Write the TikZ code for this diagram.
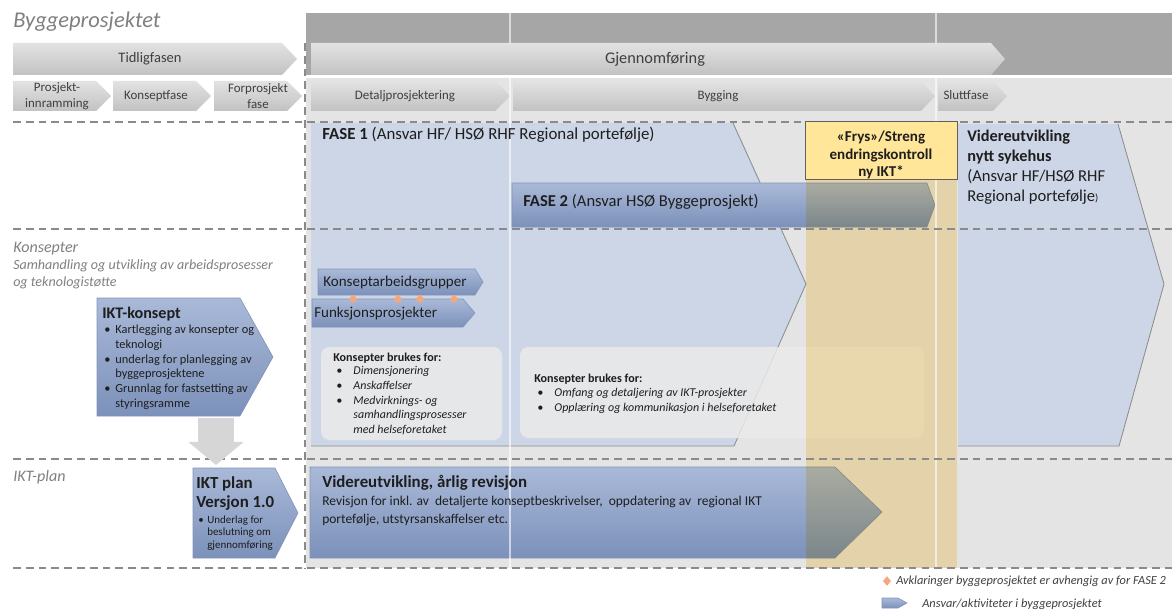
\documentclass[tikz,border=0pt]{standalone}
\usepackage{fontspec}
\setmainfont{Carlito}
\usetikzlibrary{positioning,shapes.geometric,arrows.meta}

\definecolor{bandgray}{HTML}{A6A6A6}
\definecolor{areagray}{HTML}{E4E4E4}
\definecolor{phasetop}{HTML}{E2E2E2}
\definecolor{phasebot}{HTML}{C2C2C2}
\definecolor{lightblue}{HTML}{CDD6E7}
\definecolor{bluetop}{HTML}{A9B9D8}
\definecolor{bluebot}{HTML}{7C91BA}
\definecolor{blueedge}{HTML}{8192B6}
\definecolor{edgegray}{HTML}{8C8C8C}
\definecolor{sepgray}{HTML}{8A8A8A}
\definecolor{frysyellow}{HTML}{FFE699}
\definecolor{frysedge}{HTML}{5F5F5F}
\definecolor{bandyellow}{HTML}{FFEDBF}
\definecolor{boxgray}{HTML}{EAEAEA}
\definecolor{markorange}{HTML}{F4A77D}
\definecolor{labelgray}{HTML}{7F7F7F}
\definecolor{phasetext}{HTML}{3F3F3F}
\definecolor{darktext}{HTML}{1E1E1E}
\definecolor{arrowgray}{HTML}{D6D6D6}

\newcommand{\fsz}[2]{\fontsize{#1}{#2}\selectfont}

\tikzset{
  phase/.style={top color=phasetop, bottom color=phasebot, draw=none},
  lightedge/.style={draw=edgegray, line width=0.6pt},
  bluearrow/.style={top color=bluetop, bottom color=bluebot, draw=blueedge, line width=0.4pt},
  skille/.style={draw=sepgray, line width=1.1pt, dash pattern=on 5.5pt off 3.6pt},
  konseptbox/.style={fill=boxgray, fill opacity=0.85, rounded corners=6pt},
  txt/.style={inner sep=0pt, text=darktext},
  phasetxt/.style={inner sep=0pt, text=phasetext, font=\fsz{9.2}{11.2}, align=center},
  greylabel/.style={inner sep=0pt, text=labelgray, anchor=base west},
  marker/.style={diamond, fill=markorange, inner sep=0pt, minimum width=6.5pt, minimum height=6.5pt},
  skillelinje/.style={white, opacity=0.6, line width=1.2pt}
}

\begin{document}
\begin{tikzpicture}[x=0.025cm,y=-0.025cm]
    \useasboundingbox (0,0) rectangle (1172,611);
    % bakgrunn
    \fill[bandgray] (306,13) rectangle (1172,75);
    \fill[areagray] (306,78) rectangle (1172,568);
    \node[greylabel, font=\fsz{16}{18}\itshape] (bygg) at (13,28) {Byggeprosjektet};

    % hovedfaser
    \path[phase] (13,43) -- (282,43) -- (297,59) -- (282,75) -- (13,75) -- cycle;
    \path[phase] (311,43) -- (991,43) -- (1005,59) -- (991,75) -- (311,75) -- cycle;
    \node[phasetxt, anchor=base, font=\fsz{10.3}{12}] (tidlig) at (150,63) {Tidligfasen};
    \node[phasetxt, anchor=base, font=\fsz{11.6}{13}] (gjennom) at (655,64) {Gjennomføring};

    % delfaser
    \path[phase] (13,81) -- (96,81) -- (111,96) -- (96,111) -- (13,111) -- cycle;
    \path[phase] (113,81) -- (196,81) -- (211,96) -- (196,111) -- (113,111) -- cycle;
    \path[phase] (214,81) -- (287,81) -- (302,96) -- (287,111) -- (214,111) -- cycle;
    \path[phase] (311,81) -- (495,81) -- (510,96) -- (495,111) -- (311,111) -- cycle;
    \path[phase] (513,81) -- (921,81) -- (935,96) -- (921,111) -- (513,111) -- cycle;
    \path[phase] (938,81) -- (993,81) -- (1007,96) -- (993,111) -- (938,111) -- cycle;
    \node[phasetxt] (innramming) at (57,96) {Prosjekt-\\innramming};
    \node[phasetxt, anchor=base] (konseptfase) at (156,100) {Konseptfase};
    \node[phasetxt] (forprosjekt) at (258,96) {Forprosjekt\\fase};
    \node[phasetxt, anchor=base] (detalj) at (405,100) {Detaljprosjektering};
    \node[phasetxt, anchor=base] (bygging) at (718,100) {Bygging};
    \node[phasetxt, anchor=base] (slutt) at (966,100) {Sluttfase};

    % ansvar fase 1 og videreutvikling
    \fill[lightblue] (311,123) -- (733,123) -- (806,284) -- (734,446) -- (311,446) -- cycle;
    \draw[lightedge] (733,123) -- (806,284) -- (734,446) -- (311,446);
    \fill[lightblue] (958,124) -- (1118,124) -- (1164,284) -- (1119,446) -- (958,446) -- cycle;
    \draw[lightedge] (1118,124) -- (1164,284) -- (1119,446) -- (958,446);
    \path[bluearrow] (512,183) -- (927,183) -- (935,205) -- (927,227) -- (512,227) -- cycle;

    % konsepter
    \path[bluearrow] (318,269) -- (475,269) -- (483,282) -- (475,295) -- (318,295) -- cycle;
    \path[bluearrow] (312,299) -- (463,299) -- (475,313) -- (463,327) -- (312,327) -- cycle;
    \path[bluearrow] (97,298) -- (240,298) -- (273,357) -- (240,416) -- (97,416) -- cycle;
    \path[konseptbox] (321,347) rectangle (502,440);
    \path[konseptbox] (520,347) rectangle (924,438);

    % IKT-plan
    \path[bluearrow] (193,468) -- (275,468) -- (298,513) -- (275,558) -- (193,558) -- cycle;
    \path[bluearrow] (310,467) -- (835,467) -- (882,512) -- (835,558) -- (310,558) -- cycle;

    % frys
    \begin{scope}[blend mode=multiply]
        \fill[bandyellow] (806,179) rectangle (957,568);
    \end{scope}
    \draw[skillelinje] (510,13) -- (510,43) (510,77) -- (510,568);
    \draw[skillelinje] (936,13) -- (936,43) (936,77) -- (936,568);

    % stiplede skiller
    \draw[skille] (13,122) -- (1172,122);
    \draw[skille] (13,229) -- (1172,229);
    \draw[skille] (13,459) -- (1172,459);
    \draw[skille] (13,568) -- (1172,568);
    \draw[skille] (305,43) -- (305,568);

    \draw[fill=frysyellow, draw=frysedge, line width=0.6pt] (805,121) rectangle (957,179);
    \node[txt, align=center, font=\fsz{10.7}{12.4}\bfseries] (frys) at (881,155) {«Frys»/Streng\\endringskontroll\\ny IKT*};

    % tekster rad 2
    \node[txt, anchor=base west, font=\fsz{12}{14}] (fase1) at (322,139.5) {\textbf{FASE 1} (Ansvar HF/ HSØ RHF Regional portefølje)};
    \node[txt, anchor=base west, font=\fsz{11.8}{14}] (fase2) at (523,206) {\textbf{FASE 2} (Ansvar HSØ Byggeprosjekt)};
    \node[txt, anchor=base west, font=\fsz{11.8}{14.2}] (sykehus) at (967,142) {\begin{tabular}[t]{@{}l@{}}
        {\fsz{11.6}{14.2}\bfseries Videreutvikling}\\
        {\fsz{11.6}{14.2}\bfseries nytt sykehus}\\
        (Ansvar HF/HSØ RHF\\
        Regional portefølje{\fsz{7.5}{8})}\end{tabular}};

    % tekster rad 3
    \node[greylabel, font=\fsz{11.4}{13}\itshape] (konsepter) at (13,252) {Konsepter};
    \node[greylabel, font=\fsz{10}{12.8}\itshape] (samhandling) at (13,269) {\begin{tabular}[t]{@{}l@{}}
        Samhandling og utvikling av arbeidsprosesser\\
        og teknologistøtte\end{tabular}};
    \node[txt, anchor=base west, font=\fsz{10.7}{13}] (arbeidsgrupper) at (323,286.5) {Konseptarbeidsgrupper};
    \node[txt, anchor=base west, font=\fsz{10.7}{13}] (funksjon) at (314,317.5) {Funksjonsprosjekter};
    \node[marker] (m1) at (353,299) {};
    \node[marker] (m2) at (398,299) {};
    \node[marker] (m3) at (420,299) {};
    \node[marker] (m4) at (454,299) {};

    \node[txt, anchor=base west, font=\fsz{11.5}{13}\bfseries] (iktkonsept) at (102,318) {IKT-konsept};
    \node[txt, anchor=base west, font=\fsz{8.8}{10.5}] (iktliste) at (104,333.5) {\begin{tabular}[t]{@{}l@{\hspace{3.5pt}}l@{}}
        \textbullet & Kartlegging av konsepter og\\
        & teknologi\\
        \textbullet & underlag for planlegging av\\
        & byggeprosjektene\\
        \textbullet & Grunnlag for fastsetting av\\
        & styringsramme\end{tabular}};

    \node[txt, anchor=base west, font=\fsz{8.6}{10.5}\bfseries] (brukes1) at (333,361.5) {Konsepter brukes for:};
    \node[txt, anchor=base west, font=\fsz{8.5}{10.5}\itshape] (brukesliste1) at (336,374.5) {\begin{tabular}[t]{@{}l@{\hspace{8pt}}l@{}}
        \textbullet & Dimensjonering\\
        \textbullet & Anskaffelser\\
        \textbullet & Medvirknings- og\\
        & samhandlingsprosesser\\
        & med helseforetaket\end{tabular}};
    \node[txt, anchor=base west, font=\fsz{8.6}{10.5}\bfseries] (brukes2) at (534,382.5) {Konsepter brukes for:};
    \node[txt, anchor=base west, font=\fsz{8.5}{10.5}\itshape] (brukesliste2) at (537,396.5) {\begin{tabular}[t]{@{}l@{\hspace{8pt}}l@{}}
        \textbullet & Omfang og detaljering av IKT-prosjekter\\
        \textbullet & Opplæring og kommunikasjon i helseforetaket\end{tabular}};

    % fra konsept til plan
    \coordinate (konseptbunn) at (216,418);
    \coordinate (plantopp) at (216,465);
    \draw[arrowgray, line width=24.9pt, -{Triangle[width=38.4pt,length=16.4pt]}] (konseptbunn) -- (plantopp);

    % tekster rad 4
    \node[greylabel, font=\fsz{11.4}{13}\itshape] (iktplanlabel) at (13,481) {IKT-plan};
    \node[txt, anchor=base west, font=\fsz{12}{14.2}\bfseries] (iktplan) at (196,488) {\begin{tabular}[t]{@{}l@{}}
        IKT plan\\
        Versjon 1.0\end{tabular}};
    \node[txt, anchor=base west, font=\fsz{7.8}{8.9}] (planliste) at (198,523) {\begin{tabular}[t]{@{}l@{\hspace{2.5pt}}l@{}}
        \textbullet & Underlag for\\
        & beslutning om\\
        & gjennomføring\end{tabular}};
    \node[txt, anchor=base west, font=\fsz{12}{14}\bfseries] (revisjon) at (322,487) {Videreutvikling, årlig revisjon};
    \node[txt, anchor=base west, font=\fsz{9.6}{12.8}] (revisjonstekst) at (322,505.5) {\begin{tabular}[t]{@{}l@{}}
        Revisjon for inkl. av~ detaljerte konseptbeskrivelser,~ oppdatering av~ regional IKT\\
        portefølje, utstyrsanskaffelser etc.\end{tabular}};

    % forklaring
    \node[marker, minimum width=5.8pt, minimum height=7pt] (m5) at (887,581) {};
    \node[txt, anchor=base west, font=\fsz{8.8}{10}\itshape, text=phasetext] (forklaring1) at (896,584) {Avklaringer byggeprosjektet er avhengig av for FASE 2};
    \path[bluearrow] (882,598) -- (898,598) -- (907,603) -- (898,608) -- (882,608) -- cycle;
    \node[txt, anchor=base west, font=\fsz{8.8}{10}\itshape, text=phasetext] (forklaring2) at (922,607) {Ansvar/aktiviteter i byggeprosjektet};
\end{tikzpicture}
\end{document}
